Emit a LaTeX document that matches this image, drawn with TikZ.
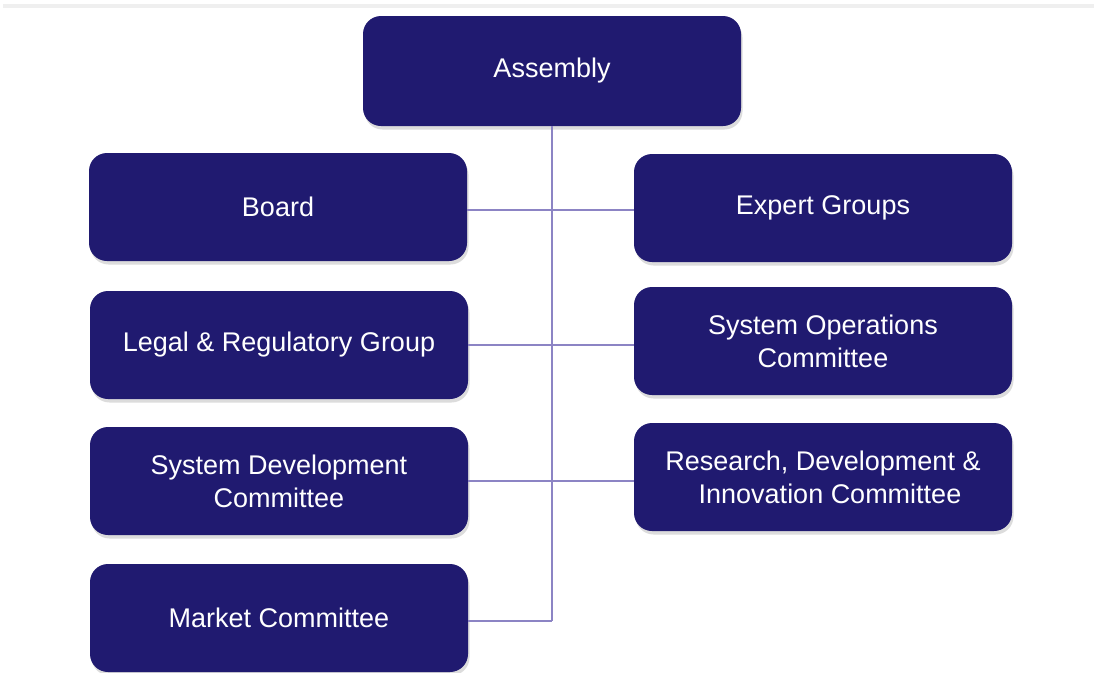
\documentclass[tikz,border=0pt]{standalone}
\usepackage{fontspec}
\setmainfont{Liberation Sans}
\usetikzlibrary{shadows,positioning}
\definecolor{navy}{HTML}{201A70}
\definecolor{linkline}{HTML}{8C84C4}
\definecolor{topline}{HTML}{EFEFEF}

\tikzset{
  orgbox/.style={rectangle, rounded corners=18pt, fill=navy, text=white,
    minimum width=378pt, minimum height=108pt, align=center,
    font=\fontsize{27}{33}\selectfont,
    drop shadow={opacity=0.28, shadow xshift=1.5pt, shadow yshift=-3.5pt}},
  link/.style={draw=linkline, line width=1.6pt}
}

\begin{document}
\begin{tikzpicture}[x=1pt,y=-1pt]
  \useasboundingbox (0,0) rectangle (1094,672);
  \fill[topline] (3,4) rectangle (1094,8);

  % top and left column
  \node[orgbox, minimum height=110pt] (assembly) at (552,71) {Assembly};
  \node[orgbox] (board) at (278,207) {Board};
  \node[orgbox] (legal) at (279,345) {Legal \& Regulatory Group};
  \node[orgbox] (sysdev) at (279,481) {System Development\\Committee};
  \node[orgbox] (market) at (279,618) {Market Committee};

  % right column
  \node[orgbox] (expert) at (823,208) {Expert Groups};
  \node[orgbox] (sysops) at (823,341) {System Operations\\Committee};
  \node[orgbox] (research) at (823,477) {Research, Development \&\\\hspace*{14pt}Innovation Committee};

  % connectors
  \coordinate (trunkend) at (assembly.south |- 0,621);
  \coordinate (boardlink) at (board.east |- 0,210);
  \draw[link] (assembly.south) -- (trunkend);
  \draw[link] (trunkend -| market.east) -- (trunkend);
  \draw[link] (boardlink) -- (boardlink -| expert.west);
  \draw[link] (legal.east) -- (legal.east -| sysops.west);
  \draw[link] (sysdev.east) -- (sysdev.east -| research.west);
\end{tikzpicture}
\end{document}
